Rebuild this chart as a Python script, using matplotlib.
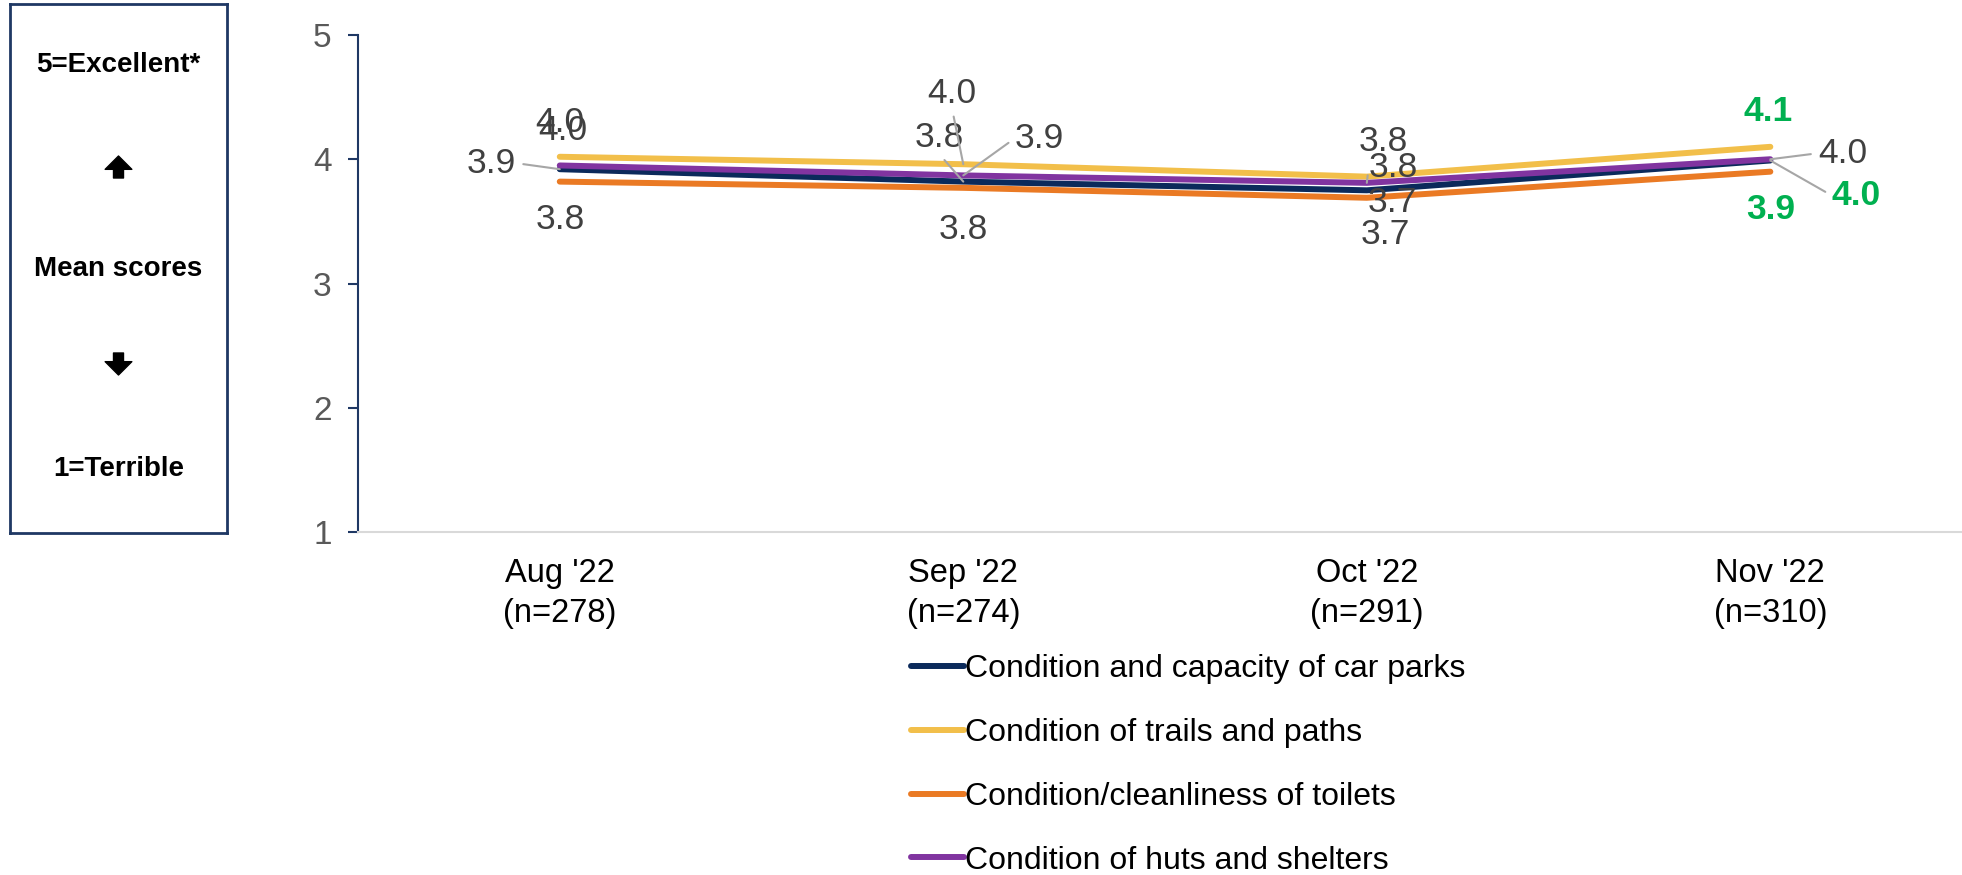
import matplotlib.pyplot as plt

plt.rcParams['font.family'] = ['Liberation Sans', 'DejaVu Sans']

months = ["Aug '22\n(n=278)", "Sep '22\n(n=274)", "Oct '22\n(n=291)", "Nov '22\n(n=310)"]

car_parks = [3.92, 3.82, 3.75, 3.99]
trails = [4.02, 3.96, 3.86, 4.10]
toilets = [3.82, 3.77, 3.69, 3.90]
huts = [3.95, 3.87, 3.81, 4.00]

car_parks_lbl = ['3.9', '3.8', '3.7', '4.0']
trails_lbl = ['4.0', '4.0', '3.8', '4.1']
toilets_lbl = ['3.8', '3.8', '3.7', '3.9']
huts_lbl = ['4.0', '3.9', '3.8', '4.0']

# significant change markers (shown in green bold)
car_parks_sig = [False, False, False, True]
trails_sig = [False, False, False, True]
toilets_sig = [False, False, False, True]
huts_sig = [False, False, False, False]

series = [
    ('Condition and capacity of car parks', car_parks, car_parks_lbl, car_parks_sig, '#0B2A5B'),
    ('Condition of trails and paths', trails, trails_lbl, trails_sig, '#F2BF4A'),
    ('Condition/cleanliness of toilets', toilets, toilets_lbl, toilets_sig, '#EA7A24'),
    ('Condition of huts and shelters', huts, huts_lbl, huts_sig, '#8134A0'),
]

# label offsets in pixels from the point, plus leader anchor (None = no leader)
offsets = {
    'Condition and capacity of car parks': [(-68, 6, (1, 0.5)), (-24, 44, (0.5, 0)), (26, -12, None), (86, -35, (0, 0.5))],
    'Condition of trails and paths': [(0, 34, None), (-11, 71, (0.5, 0)), (16, 35, None), (-2, 35, None)],
    'Condition/cleanliness of toilets': [(1, -38, None), (0, -42, None), (19, -37, None), (0, -38, None)],
    'Condition of huts and shelters': [(3, 35, None), (76, 37, (0, 0.5)), (26, 15, (0, 0.4)), (72, 6, (0, 0.5))],
}

fig = plt.figure(figsize=(19.62, 8.75), dpi=100)
ax = fig.add_axes([358 / 1962, 343 / 875, 1 - 358 / 1962, 497 / 875])

x = list(range(len(months)))
for name, vals, lbls, sig, color in series:
    ax.plot(x, vals, color=color, lw=4.3, solid_capstyle='round', label=name)

for name, vals, lbls, sig, color in series:
    for i, (v, t, s) in enumerate(zip(vals, lbls, sig)):
        dx, dy, rel = offsets[name][i]
        props = None
        if rel is not None:
            props = dict(arrowstyle='-', color='#A6A6A6', lw=1.5, shrinkA=3, shrinkB=0, relpos=rel)
        ax.annotate(t, (i, v), xytext=(dx, dy), textcoords='offset pixels',
                    ha='center', va='center', fontsize=25.5,
                    color='#00B050' if s else '#404040',
                    fontweight='bold' if s else 'normal',
                    arrowprops=props)

ax.set_xlim(-0.5, 3.475)
ax.set_ylim(1, 5)
ax.set_yticks([1, 2, 3, 4, 5])
ax.set_xticks(x)
ax.set_xticklabels(months, fontsize=23.5, color='#000000', linespacing=1.35)
ax.tick_params(axis='x', length=0, pad=19)
ax.tick_params(axis='y', length=7, width=1.5, color='#1F3864', labelsize=24, labelcolor='#595959', pad=12)
ax.spines['left'].set_color('#1F3864')
ax.spines['left'].set_linewidth(1.5)
ax.spines['bottom'].set_color('#D9D9D9')
ax.spines['bottom'].set_linewidth(1.5)
ax.spines['top'].set_visible(False)
ax.spines['right'].set_visible(False)

leg = ax.legend(loc='upper left', bbox_to_anchor=(895 / 1962, 1 - 638 / 875),
                bbox_transform=fig.transFigure, frameon=False, fontsize=23,
                handlelength=1.65, handletextpad=0.05, labelspacing=1.06, borderpad=0)

# scale box on the left
bx = fig.add_axes([10 / 1962, 342 / 875, 217 / 1962, 529 / 875])
bx.set_xticks([])
bx.set_yticks([])
bx.set_xlim(0, 1)
bx.set_ylim(0, 1)
for sp in bx.spines.values():
    sp.set_color('#1F3864')
    sp.set_linewidth(2)

def box_y(py):
    return (533 - py) / 529

bx.text(0.5, box_y(65), '5=Excellent*', ha='center', va='center', fontsize=20, fontweight='bold')
bx.text(0.5, box_y(269), 'Mean scores', ha='center', va='center', fontsize=20, fontweight='bold')
bx.text(0.5, box_y(469), '1=Terrible', ha='center', va='center', fontsize=20, fontweight='bold')
arrow = dict(arrowstyle='simple,head_width=1.6,head_length=0.8,tail_width=0.6',
             color='black', shrinkA=0, shrinkB=0, mutation_scale=12)
bx.annotate('', xy=(0.5, box_y(156)), xytext=(0.5, box_y(178)), arrowprops=arrow)
bx.annotate('', xy=(0.5, box_y(375)), xytext=(0.5, box_y(353)), arrowprops=arrow)

fig.savefig('out.png', dpi=100)
